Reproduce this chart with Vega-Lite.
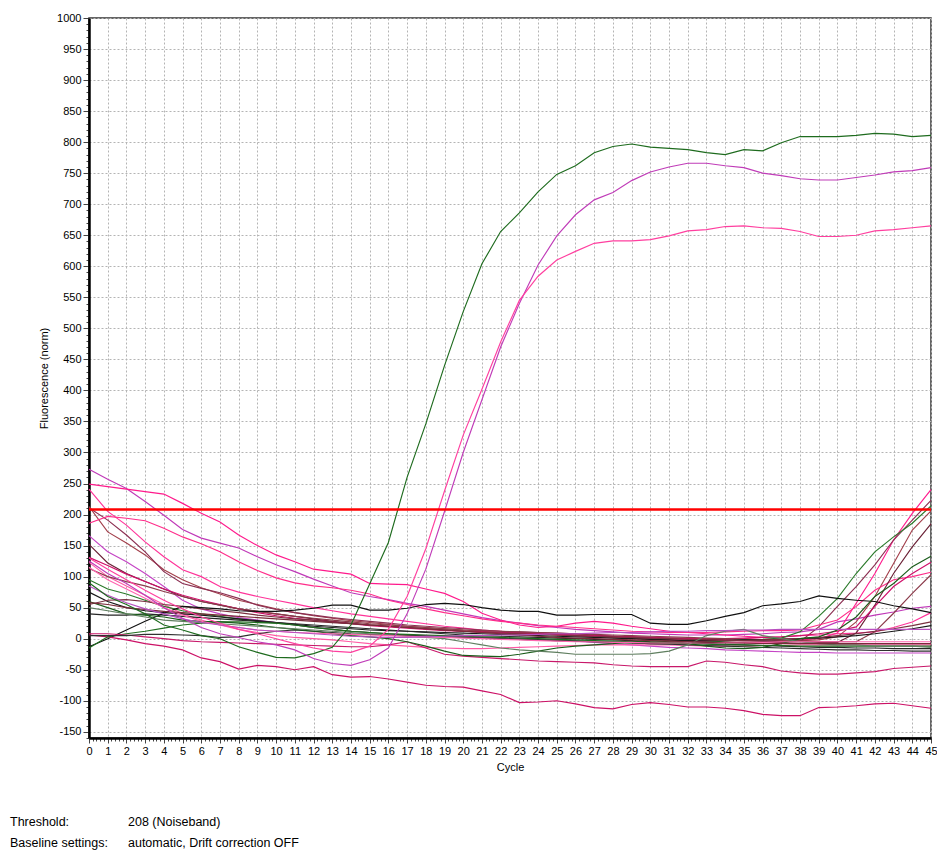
{
"$schema":"https://vega.github.io/schema/vega-lite/v6.json",
"width":842,"height":720,
"autosize":{"type":"none"},
"padding":{"left":89,"top":18,"right":6,"bottom":112},
"background":"white",
"config":{"view":{"stroke":"#333333","strokeWidth":1.5},"font":"Liberation Sans","axis":{"labelFont":"Liberation Sans","titleFont":"Liberation Sans","labelColor":"#000000","titleColor":"#000000","titleFontWeight":"normal","labelFontSize":11,"titleFontSize":11}},
"layer":[
{"data":{"values":[
{"s":"d","c":0,"v":273},{"s":"d","c":1,"v":257},{"s":"d","c":2,"v":242},{"s":"d","c":3,"v":221},{"s":"d","c":4,"v":199},{"s":"d","c":5,"v":176},{"s":"d","c":6,"v":162},{"s":"d","c":7,"v":154},{"s":"d","c":8,"v":146},{"s":"d","c":9,"v":132},{"s":"d","c":10,"v":119},{"s":"d","c":11,"v":108},{"s":"d","c":12,"v":96},{"s":"d","c":13,"v":85},{"s":"d","c":14,"v":74},{"s":"d","c":15,"v":68},{"s":"d","c":16,"v":63},{"s":"d","c":17,"v":57},{"s":"d","c":18,"v":52},{"s":"d","c":19,"v":46},{"s":"d","c":20,"v":40},{"s":"d","c":21,"v":34},{"s":"d","c":22,"v":29},{"s":"d","c":23,"v":25},{"s":"d","c":24,"v":21},{"s":"d","c":25,"v":18},{"s":"d","c":26,"v":15},{"s":"d","c":27,"v":13},{"s":"d","c":28,"v":11},{"s":"d","c":29,"v":9},{"s":"d","c":30,"v":8},{"s":"d","c":31,"v":7},{"s":"d","c":32,"v":6},{"s":"d","c":33,"v":6},{"s":"d","c":34,"v":6},{"s":"d","c":35,"v":7},{"s":"d","c":36,"v":8},{"s":"d","c":37,"v":10},{"s":"d","c":38,"v":11},{"s":"d","c":39,"v":15},{"s":"d","c":40,"v":27},{"s":"d","c":41,"v":32},{"s":"d","c":42,"v":38},{"s":"d","c":43,"v":43},{"s":"d","c":44,"v":49},{"s":"d","c":45,"v":52},
{"s":"e","c":0,"v":249},{"s":"e","c":1,"v":245},{"s":"e","c":2,"v":241},{"s":"e","c":3,"v":237},{"s":"e","c":4,"v":233},{"s":"e","c":5,"v":218},{"s":"e","c":6,"v":202},{"s":"e","c":7,"v":188},{"s":"e","c":8,"v":167},{"s":"e","c":9,"v":150},{"s":"e","c":10,"v":135},{"s":"e","c":11,"v":124},{"s":"e","c":12,"v":112},{"s":"e","c":13,"v":108},{"s":"e","c":14,"v":104},{"s":"e","c":15,"v":89},{"s":"e","c":16,"v":88},{"s":"e","c":17,"v":87},{"s":"e","c":18,"v":80},{"s":"e","c":19,"v":73},{"s":"e","c":20,"v":60},{"s":"e","c":21,"v":41},{"s":"e","c":22,"v":30},{"s":"e","c":23,"v":22},{"s":"e","c":24,"v":18},{"s":"e","c":25,"v":20},{"s":"e","c":26,"v":25},{"s":"e","c":27,"v":28},{"s":"e","c":28,"v":25},{"s":"e","c":29,"v":20},{"s":"e","c":30,"v":16},{"s":"e","c":31,"v":12},{"s":"e","c":32,"v":10},{"s":"e","c":33,"v":8},{"s":"e","c":34,"v":6},{"s":"e","c":35,"v":4},{"s":"e","c":36,"v":2},{"s":"e","c":37,"v":0},{"s":"e","c":38,"v":-2},{"s":"e","c":39,"v":0},{"s":"e","c":40,"v":9},{"s":"e","c":41,"v":57},{"s":"e","c":42,"v":105},{"s":"e","c":43,"v":159},{"s":"e","c":44,"v":202},{"s":"e","c":45,"v":240},
{"s":"f","c":0,"v":241},{"s":"f","c":1,"v":205},{"s":"f","c":2,"v":183},{"s":"f","c":3,"v":156},{"s":"f","c":4,"v":132},{"s":"f","c":5,"v":111},{"s":"f","c":6,"v":100},{"s":"f","c":7,"v":84},{"s":"f","c":8,"v":75},{"s":"f","c":9,"v":68},{"s":"f","c":10,"v":62},{"s":"f","c":11,"v":56},{"s":"f","c":12,"v":50},{"s":"f","c":13,"v":45},{"s":"f","c":14,"v":40},{"s":"f","c":15,"v":36},{"s":"f","c":16,"v":32},{"s":"f","c":17,"v":28},{"s":"f","c":18,"v":24},{"s":"f","c":19,"v":20},{"s":"f","c":20,"v":17},{"s":"f","c":21,"v":14},{"s":"f","c":22,"v":12},{"s":"f","c":23,"v":10},{"s":"f","c":24,"v":8},{"s":"f","c":25,"v":6},{"s":"f","c":26,"v":5},{"s":"f","c":27,"v":4},{"s":"f","c":28,"v":3},{"s":"f","c":29,"v":2},{"s":"f","c":30,"v":0},{"s":"f","c":31,"v":-1},{"s":"f","c":32,"v":-2},{"s":"f","c":33,"v":-2},{"s":"f","c":34,"v":-1},{"s":"f","c":35,"v":0},{"s":"f","c":36,"v":2},{"s":"f","c":37,"v":3},{"s":"f","c":38,"v":5},{"s":"f","c":39,"v":6},{"s":"f","c":40,"v":8},{"s":"f","c":41,"v":9},{"s":"f","c":42,"v":11},{"s":"f","c":43,"v":18},{"s":"f","c":44,"v":27},{"s":"f","c":45,"v":42},
{"s":"g","c":0,"v":213},{"s":"g","c":1,"v":172},{"s":"g","c":2,"v":154},{"s":"g","c":3,"v":135},{"s":"g","c":4,"v":111},{"s":"g","c":5,"v":95},{"s":"g","c":6,"v":82},{"s":"g","c":7,"v":72},{"s":"g","c":8,"v":62},{"s":"g","c":9,"v":55},{"s":"g","c":10,"v":48},{"s":"g","c":11,"v":42},{"s":"g","c":12,"v":37},{"s":"g","c":13,"v":33},{"s":"g","c":14,"v":29},{"s":"g","c":15,"v":26},{"s":"g","c":16,"v":23},{"s":"g","c":17,"v":20},{"s":"g","c":18,"v":18},{"s":"g","c":19,"v":16},{"s":"g","c":20,"v":14},{"s":"g","c":21,"v":12},{"s":"g","c":22,"v":10},{"s":"g","c":23,"v":9},{"s":"g","c":24,"v":8},{"s":"g","c":25,"v":6},{"s":"g","c":26,"v":5},{"s":"g","c":27,"v":3},{"s":"g","c":28,"v":2},{"s":"g","c":29,"v":0},{"s":"g","c":30,"v":-1},{"s":"g","c":31,"v":-3},{"s":"g","c":32,"v":-4},{"s":"g","c":33,"v":-5},{"s":"g","c":34,"v":-6},{"s":"g","c":35,"v":-6},{"s":"g","c":36,"v":-5},{"s":"g","c":37,"v":-4},{"s":"g","c":38,"v":-3},{"s":"g","c":39,"v":-2},{"s":"g","c":40,"v":3},{"s":"g","c":41,"v":27},{"s":"g","c":42,"v":68},{"s":"g","c":43,"v":121},{"s":"g","c":44,"v":175},{"s":"g","c":45,"v":206},
{"s":"h","c":0,"v":211},{"s":"h","c":1,"v":191},{"s":"h","c":2,"v":167},{"s":"h","c":3,"v":140},{"s":"h","c":4,"v":108},{"s":"h","c":5,"v":89},{"s":"h","c":6,"v":81},{"s":"h","c":7,"v":74},{"s":"h","c":8,"v":65},{"s":"h","c":9,"v":54},{"s":"h","c":10,"v":47},{"s":"h","c":11,"v":42},{"s":"h","c":12,"v":38},{"s":"h","c":13,"v":34},{"s":"h","c":14,"v":31},{"s":"h","c":15,"v":28},{"s":"h","c":16,"v":25},{"s":"h","c":17,"v":22},{"s":"h","c":18,"v":20},{"s":"h","c":19,"v":18},{"s":"h","c":20,"v":16},{"s":"h","c":21,"v":14},{"s":"h","c":22,"v":12},{"s":"h","c":23,"v":11},{"s":"h","c":24,"v":10},{"s":"h","c":25,"v":9},{"s":"h","c":26,"v":8},{"s":"h","c":27,"v":6},{"s":"h","c":28,"v":4},{"s":"h","c":29,"v":2},{"s":"h","c":30,"v":0},{"s":"h","c":31,"v":-2},{"s":"h","c":32,"v":-4},{"s":"h","c":33,"v":-5},{"s":"h","c":34,"v":-6},{"s":"h","c":35,"v":-7},{"s":"h","c":36,"v":-7},{"s":"h","c":37,"v":-6},{"s":"h","c":38,"v":-5},{"s":"h","c":39,"v":19},{"s":"h","c":40,"v":52},{"s":"h","c":41,"v":84},{"s":"h","c":42,"v":119},{"s":"h","c":43,"v":159},{"s":"h","c":44,"v":191},{"s":"h","c":45,"v":223},
{"s":"i","c":0,"v":186},{"s":"i","c":1,"v":197},{"s":"i","c":2,"v":194},{"s":"i","c":3,"v":190},{"s":"i","c":4,"v":178},{"s":"i","c":5,"v":164},{"s":"i","c":6,"v":153},{"s":"i","c":7,"v":140},{"s":"i","c":8,"v":124},{"s":"i","c":9,"v":110},{"s":"i","c":10,"v":98},{"s":"i","c":11,"v":90},{"s":"i","c":12,"v":85},{"s":"i","c":13,"v":82},{"s":"i","c":14,"v":78},{"s":"i","c":15,"v":72},{"s":"i","c":16,"v":62},{"s":"i","c":17,"v":55},{"s":"i","c":18,"v":48},{"s":"i","c":19,"v":42},{"s":"i","c":20,"v":37},{"s":"i","c":21,"v":32},{"s":"i","c":22,"v":28},{"s":"i","c":23,"v":25},{"s":"i","c":24,"v":22},{"s":"i","c":25,"v":20},{"s":"i","c":26,"v":18},{"s":"i","c":27,"v":16},{"s":"i","c":28,"v":14},{"s":"i","c":29,"v":12},{"s":"i","c":30,"v":11},{"s":"i","c":31,"v":10},{"s":"i","c":32,"v":10},{"s":"i","c":33,"v":10},{"s":"i","c":34,"v":11},{"s":"i","c":35,"v":12},{"s":"i","c":36,"v":13},{"s":"i","c":37,"v":13},{"s":"i","c":38,"v":14},{"s":"i","c":39,"v":22},{"s":"i","c":40,"v":30},{"s":"i","c":41,"v":52},{"s":"i","c":42,"v":78},{"s":"i","c":43,"v":95},{"s":"i","c":44,"v":100},{"s":"i","c":45,"v":107},
{"s":"j","c":0,"v":166},{"s":"j","c":1,"v":140},{"s":"j","c":2,"v":124},{"s":"j","c":3,"v":105},{"s":"j","c":4,"v":84},{"s":"j","c":5,"v":62},{"s":"j","c":6,"v":48},{"s":"j","c":7,"v":40},{"s":"j","c":8,"v":34},{"s":"j","c":9,"v":30},{"s":"j","c":10,"v":26},{"s":"j","c":11,"v":22},{"s":"j","c":12,"v":18},{"s":"j","c":13,"v":15},{"s":"j","c":14,"v":12},{"s":"j","c":15,"v":10},{"s":"j","c":16,"v":8},{"s":"j","c":17,"v":6},{"s":"j","c":18,"v":5},{"s":"j","c":19,"v":4},{"s":"j","c":20,"v":3},{"s":"j","c":21,"v":2},{"s":"j","c":22,"v":1},{"s":"j","c":23,"v":0},{"s":"j","c":24,"v":-1},{"s":"j","c":25,"v":-2},{"s":"j","c":26,"v":-4},{"s":"j","c":27,"v":-6},{"s":"j","c":28,"v":-8},{"s":"j","c":29,"v":-10},{"s":"j","c":30,"v":-12},{"s":"j","c":31,"v":-14},{"s":"j","c":32,"v":-15},{"s":"j","c":33,"v":-16},{"s":"j","c":34,"v":-18},{"s":"j","c":35,"v":-19},{"s":"j","c":36,"v":-20},{"s":"j","c":37,"v":-21},{"s":"j","c":38,"v":-22},{"s":"j","c":39,"v":-22},{"s":"j","c":40,"v":-23},{"s":"j","c":41,"v":-23},{"s":"j","c":42,"v":-23},{"s":"j","c":43,"v":-23},{"s":"j","c":44,"v":-23},{"s":"j","c":45,"v":-23},
{"s":"k","c":0,"v":152},{"s":"k","c":1,"v":122},{"s":"k","c":2,"v":105},{"s":"k","c":3,"v":92},{"s":"k","c":4,"v":80},{"s":"k","c":5,"v":68},{"s":"k","c":6,"v":60},{"s":"k","c":7,"v":54},{"s":"k","c":8,"v":48},{"s":"k","c":9,"v":44},{"s":"k","c":10,"v":40},{"s":"k","c":11,"v":36},{"s":"k","c":12,"v":32},{"s":"k","c":13,"v":28},{"s":"k","c":14,"v":25},{"s":"k","c":15,"v":22},{"s":"k","c":16,"v":20},{"s":"k","c":17,"v":18},{"s":"k","c":18,"v":16},{"s":"k","c":19,"v":14},{"s":"k","c":20,"v":12},{"s":"k","c":21,"v":11},{"s":"k","c":22,"v":10},{"s":"k","c":23,"v":9},{"s":"k","c":24,"v":8},{"s":"k","c":25,"v":7},{"s":"k","c":26,"v":6},{"s":"k","c":27,"v":5},{"s":"k","c":28,"v":4},{"s":"k","c":29,"v":3},{"s":"k","c":30,"v":2},{"s":"k","c":31,"v":1},{"s":"k","c":32,"v":0},{"s":"k","c":33,"v":-1},{"s":"k","c":34,"v":-2},{"s":"k","c":35,"v":-3},{"s":"k","c":36,"v":-4},{"s":"k","c":37,"v":-5},{"s":"k","c":38,"v":-5},{"s":"k","c":39,"v":-6},{"s":"k","c":40,"v":-6},{"s":"k","c":41,"v":9},{"s":"k","c":42,"v":54},{"s":"k","c":43,"v":105},{"s":"k","c":44,"v":148},{"s":"k","c":45,"v":185},
{"s":"l","c":0,"v":131},{"s":"l","c":1,"v":118},{"s":"l","c":2,"v":104},{"s":"l","c":3,"v":92},{"s":"l","c":4,"v":80},{"s":"l","c":5,"v":70},{"s":"l","c":6,"v":62},{"s":"l","c":7,"v":55},{"s":"l","c":8,"v":48},{"s":"l","c":9,"v":42},{"s":"l","c":10,"v":37},{"s":"l","c":11,"v":33},{"s":"l","c":12,"v":30},{"s":"l","c":13,"v":27},{"s":"l","c":14,"v":24},{"s":"l","c":15,"v":21},{"s":"l","c":16,"v":19},{"s":"l","c":17,"v":17},{"s":"l","c":18,"v":15},{"s":"l","c":19,"v":13},{"s":"l","c":20,"v":12},{"s":"l","c":21,"v":11},{"s":"l","c":22,"v":10},{"s":"l","c":23,"v":9},{"s":"l","c":24,"v":8},{"s":"l","c":25,"v":7},{"s":"l","c":26,"v":6},{"s":"l","c":27,"v":5},{"s":"l","c":28,"v":4},{"s":"l","c":29,"v":3},{"s":"l","c":30,"v":2},{"s":"l","c":31,"v":1},{"s":"l","c":32,"v":0},{"s":"l","c":33,"v":0},{"s":"l","c":34,"v":0},{"s":"l","c":35,"v":1},{"s":"l","c":36,"v":2},{"s":"l","c":37,"v":3},{"s":"l","c":38,"v":5},{"s":"l","c":39,"v":8},{"s":"l","c":40,"v":12},{"s":"l","c":41,"v":19},{"s":"l","c":42,"v":52},{"s":"l","c":43,"v":84},{"s":"l","c":44,"v":105},{"s":"l","c":45,"v":123},
{"s":"m","c":0,"v":123},{"s":"m","c":1,"v":100},{"s":"m","c":2,"v":85},{"s":"m","c":3,"v":70},{"s":"m","c":4,"v":55},{"s":"m","c":5,"v":40},{"s":"m","c":6,"v":30},{"s":"m","c":7,"v":22},{"s":"m","c":8,"v":15},{"s":"m","c":9,"v":10},{"s":"m","c":10,"v":5},{"s":"m","c":11,"v":2},{"s":"m","c":12,"v":0},{"s":"m","c":13,"v":-2},{"s":"m","c":14,"v":-5},{"s":"m","c":15,"v":-8},{"s":"m","c":16,"v":-10},{"s":"m","c":17,"v":-12},{"s":"m","c":18,"v":-14},{"s":"m","c":19,"v":-15},{"s":"m","c":20,"v":-16},{"s":"m","c":21,"v":-16},{"s":"m","c":22,"v":-15},{"s":"m","c":23,"v":-14},{"s":"m","c":24,"v":-13},{"s":"m","c":25,"v":-12},{"s":"m","c":26,"v":-11},{"s":"m","c":27,"v":-10},{"s":"m","c":28,"v":-10},{"s":"m","c":29,"v":-10},{"s":"m","c":30,"v":-10},{"s":"m","c":31,"v":-10},{"s":"m","c":32,"v":-11},{"s":"m","c":33,"v":-12},{"s":"m","c":34,"v":-12},{"s":"m","c":35,"v":-12},{"s":"m","c":36,"v":-11},{"s":"m","c":37,"v":-11},{"s":"m","c":38,"v":-10},{"s":"m","c":39,"v":-10},{"s":"m","c":40,"v":-10},{"s":"m","c":41,"v":-10},{"s":"m","c":42,"v":-10},{"s":"m","c":43,"v":-10},{"s":"m","c":44,"v":-10},{"s":"m","c":45,"v":-10},
{"s":"n","c":0,"v":113},{"s":"n","c":1,"v":100},{"s":"n","c":2,"v":92},{"s":"n","c":3,"v":85},{"s":"n","c":4,"v":76},{"s":"n","c":5,"v":68},{"s":"n","c":6,"v":60},{"s":"n","c":7,"v":54},{"s":"n","c":8,"v":48},{"s":"n","c":9,"v":44},{"s":"n","c":10,"v":40},{"s":"n","c":11,"v":36},{"s":"n","c":12,"v":33},{"s":"n","c":13,"v":30},{"s":"n","c":14,"v":27},{"s":"n","c":15,"v":24},{"s":"n","c":16,"v":22},{"s":"n","c":17,"v":20},{"s":"n","c":18,"v":18},{"s":"n","c":19,"v":16},{"s":"n","c":20,"v":14},{"s":"n","c":21,"v":13},{"s":"n","c":22,"v":12},{"s":"n","c":23,"v":11},{"s":"n","c":24,"v":10},{"s":"n","c":25,"v":9},{"s":"n","c":26,"v":8},{"s":"n","c":27,"v":7},{"s":"n","c":28,"v":6},{"s":"n","c":29,"v":5},{"s":"n","c":30,"v":4},{"s":"n","c":31,"v":3},{"s":"n","c":32,"v":2},{"s":"n","c":33,"v":1},{"s":"n","c":34,"v":0},{"s":"n","c":35,"v":-1},{"s":"n","c":36,"v":-2},{"s":"n","c":37,"v":-3},{"s":"n","c":38,"v":-4},{"s":"n","c":39,"v":-5},{"s":"n","c":40,"v":-5},{"s":"n","c":41,"v":-5},{"s":"n","c":42,"v":11},{"s":"n","c":43,"v":41},{"s":"n","c":44,"v":73},{"s":"n","c":45,"v":103},
{"s":"o","c":0,"v":95},{"s":"o","c":1,"v":80},{"s":"o","c":2,"v":72},{"s":"o","c":3,"v":62},{"s":"o","c":4,"v":52},{"s":"o","c":5,"v":45},{"s":"o","c":6,"v":40},{"s":"o","c":7,"v":36},{"s":"o","c":8,"v":32},{"s":"o","c":9,"v":28},{"s":"o","c":10,"v":25},{"s":"o","c":11,"v":22},{"s":"o","c":12,"v":18},{"s":"o","c":13,"v":15},{"s":"o","c":14,"v":12},{"s":"o","c":15,"v":10},{"s":"o","c":16,"v":8},{"s":"o","c":17,"v":6},{"s":"o","c":18,"v":4},{"s":"o","c":19,"v":3},{"s":"o","c":20,"v":2},{"s":"o","c":21,"v":1},{"s":"o","c":22,"v":0},{"s":"o","c":23,"v":-1},{"s":"o","c":24,"v":-2},{"s":"o","c":25,"v":-3},{"s":"o","c":26,"v":-4},{"s":"o","c":27,"v":-5},{"s":"o","c":28,"v":-6},{"s":"o","c":29,"v":-7},{"s":"o","c":30,"v":-8},{"s":"o","c":31,"v":-8},{"s":"o","c":32,"v":-8},{"s":"o","c":33,"v":-6},{"s":"o","c":34,"v":-4},{"s":"o","c":35,"v":-2},{"s":"o","c":36,"v":-1},{"s":"o","c":37,"v":1},{"s":"o","c":38,"v":11},{"s":"o","c":39,"v":36},{"s":"o","c":40,"v":65},{"s":"o","c":41,"v":105},{"s":"o","c":42,"v":140},{"s":"o","c":43,"v":164},{"s":"o","c":44,"v":186},{"s":"o","c":45,"v":214},
{"s":"p","c":0,"v":75},{"s":"p","c":1,"v":60},{"s":"p","c":2,"v":50},{"s":"p","c":3,"v":45},{"s":"p","c":4,"v":42},{"s":"p","c":5,"v":40},{"s":"p","c":6,"v":38},{"s":"p","c":7,"v":35},{"s":"p","c":8,"v":32},{"s":"p","c":9,"v":29},{"s":"p","c":10,"v":26},{"s":"p","c":11,"v":23},{"s":"p","c":12,"v":20},{"s":"p","c":13,"v":18},{"s":"p","c":14,"v":16},{"s":"p","c":15,"v":14},{"s":"p","c":16,"v":13},{"s":"p","c":17,"v":12},{"s":"p","c":18,"v":11},{"s":"p","c":19,"v":10},{"s":"p","c":20,"v":9},{"s":"p","c":21,"v":8},{"s":"p","c":22,"v":7},{"s":"p","c":23,"v":6},{"s":"p","c":24,"v":5},{"s":"p","c":25,"v":4},{"s":"p","c":26,"v":3},{"s":"p","c":27,"v":2},{"s":"p","c":28,"v":1},{"s":"p","c":29,"v":0},{"s":"p","c":30,"v":-1},{"s":"p","c":31,"v":-2},{"s":"p","c":32,"v":-3},{"s":"p","c":33,"v":-3},{"s":"p","c":34,"v":-3},{"s":"p","c":35,"v":-2},{"s":"p","c":36,"v":-2},{"s":"p","c":37,"v":-1},{"s":"p","c":38,"v":0},{"s":"p","c":39,"v":1},{"s":"p","c":40,"v":3},{"s":"p","c":41,"v":5},{"s":"p","c":42,"v":8},{"s":"p","c":43,"v":12},{"s":"p","c":44,"v":16},{"s":"p","c":45,"v":21},
{"s":"q","c":0,"v":55},{"s":"q","c":1,"v":62},{"s":"q","c":2,"v":63},{"s":"q","c":3,"v":60},{"s":"q","c":4,"v":55},{"s":"q","c":5,"v":52},{"s":"q","c":6,"v":48},{"s":"q","c":7,"v":45},{"s":"q","c":8,"v":42},{"s":"q","c":9,"v":38},{"s":"q","c":10,"v":35},{"s":"q","c":11,"v":32},{"s":"q","c":12,"v":30},{"s":"q","c":13,"v":27},{"s":"q","c":14,"v":24},{"s":"q","c":15,"v":22},{"s":"q","c":16,"v":20},{"s":"q","c":17,"v":18},{"s":"q","c":18,"v":16},{"s":"q","c":19,"v":14},{"s":"q","c":20,"v":12},{"s":"q","c":21,"v":10},{"s":"q","c":22,"v":9},{"s":"q","c":23,"v":8},{"s":"q","c":24,"v":7},{"s":"q","c":25,"v":6},{"s":"q","c":26,"v":5},{"s":"q","c":27,"v":4},{"s":"q","c":28,"v":3},{"s":"q","c":29,"v":2},{"s":"q","c":30,"v":1},{"s":"q","c":31,"v":0},{"s":"q","c":32,"v":-1},{"s":"q","c":33,"v":-2},{"s":"q","c":34,"v":-3},{"s":"q","c":35,"v":-3},{"s":"q","c":36,"v":-2},{"s":"q","c":37,"v":-1},{"s":"q","c":38,"v":0},{"s":"q","c":39,"v":2},{"s":"q","c":40,"v":5},{"s":"q","c":41,"v":8},{"s":"q","c":42,"v":12},{"s":"q","c":43,"v":16},{"s":"q","c":44,"v":21},{"s":"q","c":45,"v":27},
{"s":"r","c":0,"v":40},{"s":"r","c":1,"v":38},{"s":"r","c":2,"v":38},{"s":"r","c":3,"v":40},{"s":"r","c":4,"v":38},{"s":"r","c":5,"v":36},{"s":"r","c":6,"v":34},{"s":"r","c":7,"v":32},{"s":"r","c":8,"v":30},{"s":"r","c":9,"v":28},{"s":"r","c":10,"v":26},{"s":"r","c":11,"v":24},{"s":"r","c":12,"v":22},{"s":"r","c":13,"v":20},{"s":"r","c":14,"v":18},{"s":"r","c":15,"v":16},{"s":"r","c":16,"v":14},{"s":"r","c":17,"v":12},{"s":"r","c":18,"v":10},{"s":"r","c":19,"v":8},{"s":"r","c":20,"v":6},{"s":"r","c":21,"v":5},{"s":"r","c":22,"v":4},{"s":"r","c":23,"v":3},{"s":"r","c":24,"v":2},{"s":"r","c":25,"v":1},{"s":"r","c":26,"v":0},{"s":"r","c":27,"v":-1},{"s":"r","c":28,"v":-2},{"s":"r","c":29,"v":-3},{"s":"r","c":30,"v":-5},{"s":"r","c":31,"v":-6},{"s":"r","c":32,"v":-7},{"s":"r","c":33,"v":-8},{"s":"r","c":34,"v":-9},{"s":"r","c":35,"v":-10},{"s":"r","c":36,"v":-11},{"s":"r","c":37,"v":-12},{"s":"r","c":38,"v":-13},{"s":"r","c":39,"v":-14},{"s":"r","c":40,"v":-14},{"s":"r","c":41,"v":-15},{"s":"r","c":42,"v":-15},{"s":"r","c":43,"v":-16},{"s":"r","c":44,"v":-16},{"s":"r","c":45,"v":-16},
{"s":"s","c":0,"v":-13},{"s":"s","c":1,"v":0},{"s":"s","c":2,"v":14},{"s":"s","c":3,"v":28},{"s":"s","c":4,"v":41},{"s":"s","c":5,"v":52},{"s":"s","c":6,"v":50},{"s":"s","c":7,"v":48},{"s":"s","c":8,"v":45},{"s":"s","c":9,"v":44},{"s":"s","c":10,"v":44},{"s":"s","c":11,"v":46},{"s":"s","c":12,"v":49},{"s":"s","c":13,"v":54},{"s":"s","c":14,"v":54},{"s":"s","c":15,"v":46},{"s":"s","c":16,"v":46},{"s":"s","c":17,"v":49},{"s":"s","c":18,"v":55},{"s":"s","c":19,"v":57},{"s":"s","c":20,"v":55},{"s":"s","c":21,"v":50},{"s":"s","c":22,"v":46},{"s":"s","c":23,"v":44},{"s":"s","c":24,"v":44},{"s":"s","c":25,"v":38},{"s":"s","c":26,"v":38},{"s":"s","c":27,"v":39},{"s":"s","c":28,"v":39},{"s":"s","c":29,"v":39},{"s":"s","c":30,"v":25},{"s":"s","c":31,"v":23},{"s":"s","c":32,"v":23},{"s":"s","c":33,"v":29},{"s":"s","c":34,"v":36},{"s":"s","c":35,"v":42},{"s":"s","c":36,"v":53},{"s":"s","c":37,"v":56},{"s":"s","c":38,"v":60},{"s":"s","c":39,"v":69},{"s":"s","c":40,"v":65},{"s":"s","c":41,"v":62},{"s":"s","c":42,"v":60},{"s":"s","c":43,"v":53},{"s":"s","c":44,"v":48},{"s":"s","c":45,"v":42},
{"s":"t","c":0,"v":6},{"s":"t","c":1,"v":3},{"s":"t","c":2,"v":-2},{"s":"t","c":3,"v":-8},{"s":"t","c":4,"v":-12},{"s":"t","c":5,"v":-18},{"s":"t","c":6,"v":-31},{"s":"t","c":7,"v":-37},{"s":"t","c":8,"v":-49},{"s":"t","c":9,"v":-43},{"s":"t","c":10,"v":-45},{"s":"t","c":11,"v":-50},{"s":"t","c":12,"v":-45},{"s":"t","c":13,"v":-58},{"s":"t","c":14,"v":-62},{"s":"t","c":15,"v":-61},{"s":"t","c":16,"v":-65},{"s":"t","c":17,"v":-70},{"s":"t","c":18,"v":-75},{"s":"t","c":19,"v":-77},{"s":"t","c":20,"v":-78},{"s":"t","c":21,"v":-84},{"s":"t","c":22,"v":-90},{"s":"t","c":23,"v":-103},{"s":"t","c":24,"v":-102},{"s":"t","c":25,"v":-100},{"s":"t","c":26,"v":-105},{"s":"t","c":27,"v":-111},{"s":"t","c":28,"v":-113},{"s":"t","c":29,"v":-106},{"s":"t","c":30,"v":-103},{"s":"t","c":31,"v":-106},{"s":"t","c":32,"v":-110},{"s":"t","c":33,"v":-110},{"s":"t","c":34,"v":-112},{"s":"t","c":35,"v":-116},{"s":"t","c":36,"v":-122},{"s":"t","c":37,"v":-124},{"s":"t","c":38,"v":-124},{"s":"t","c":39,"v":-111},{"s":"t","c":40,"v":-110},{"s":"t","c":41,"v":-108},{"s":"t","c":42,"v":-105},{"s":"t","c":43,"v":-104},{"s":"t","c":44,"v":-108},{"s":"t","c":45,"v":-112},
{"s":"u","c":0,"v":-15},{"s":"u","c":1,"v":3},{"s":"u","c":2,"v":8},{"s":"u","c":3,"v":12},{"s":"u","c":4,"v":17},{"s":"u","c":5,"v":22},{"s":"u","c":6,"v":25},{"s":"u","c":7,"v":27},{"s":"u","c":8,"v":27},{"s":"u","c":9,"v":26},{"s":"u","c":10,"v":25},{"s":"u","c":11,"v":22},{"s":"u","c":12,"v":18},{"s":"u","c":13,"v":15},{"s":"u","c":14,"v":12},{"s":"u","c":15,"v":10},{"s":"u","c":16,"v":8},{"s":"u","c":17,"v":7},{"s":"u","c":18,"v":6},{"s":"u","c":19,"v":5},{"s":"u","c":20,"v":4},{"s":"u","c":21,"v":3},{"s":"u","c":22,"v":2},{"s":"u","c":23,"v":1},{"s":"u","c":24,"v":0},{"s":"u","c":25,"v":-1},{"s":"u","c":26,"v":-2},{"s":"u","c":27,"v":-3},{"s":"u","c":28,"v":-4},{"s":"u","c":29,"v":-5},{"s":"u","c":30,"v":-6},{"s":"u","c":31,"v":-7},{"s":"u","c":32,"v":-8},{"s":"u","c":33,"v":-9},{"s":"u","c":34,"v":-10},{"s":"u","c":35,"v":-10},{"s":"u","c":36,"v":-11},{"s":"u","c":37,"v":-11},{"s":"u","c":38,"v":-12},{"s":"u","c":39,"v":-12},{"s":"u","c":40,"v":-12},{"s":"u","c":41,"v":-12},{"s":"u","c":42,"v":-12},{"s":"u","c":43,"v":-12},{"s":"u","c":44,"v":-12},{"s":"u","c":45,"v":-12},
{"s":"v","c":0,"v":8},{"s":"v","c":1,"v":8},{"s":"v","c":2,"v":6},{"s":"v","c":3,"v":3},{"s":"v","c":4,"v":0},{"s":"v","c":5,"v":-3},{"s":"v","c":6,"v":-5},{"s":"v","c":7,"v":-6},{"s":"v","c":8,"v":-7},{"s":"v","c":9,"v":-8},{"s":"v","c":10,"v":-9},{"s":"v","c":11,"v":-10},{"s":"v","c":12,"v":-11},{"s":"v","c":13,"v":-12},{"s":"v","c":14,"v":-13},{"s":"v","c":15,"v":-13},{"s":"v","c":16,"v":-10},{"s":"v","c":17,"v":-5},{"s":"v","c":18,"v":-15},{"s":"v","c":19,"v":-25},{"s":"v","c":20,"v":-28},{"s":"v","c":21,"v":-30},{"s":"v","c":22,"v":-32},{"s":"v","c":23,"v":-34},{"s":"v","c":24,"v":-36},{"s":"v","c":25,"v":-37},{"s":"v","c":26,"v":-38},{"s":"v","c":27,"v":-39},{"s":"v","c":28,"v":-42},{"s":"v","c":29,"v":-44},{"s":"v","c":30,"v":-45},{"s":"v","c":31,"v":-45},{"s":"v","c":32,"v":-45},{"s":"v","c":33,"v":-36},{"s":"v","c":34,"v":-38},{"s":"v","c":35,"v":-42},{"s":"v","c":36,"v":-45},{"s":"v","c":37,"v":-52},{"s":"v","c":38,"v":-55},{"s":"v","c":39,"v":-57},{"s":"v","c":40,"v":-57},{"s":"v","c":41,"v":-55},{"s":"v","c":42,"v":-53},{"s":"v","c":43,"v":-48},{"s":"v","c":44,"v":-46},{"s":"v","c":45,"v":-44},
{"s":"w","c":0,"v":5},{"s":"w","c":1,"v":5},{"s":"w","c":2,"v":5},{"s":"w","c":3,"v":7},{"s":"w","c":4,"v":7},{"s":"w","c":5,"v":6},{"s":"w","c":6,"v":5},{"s":"w","c":7,"v":2},{"s":"w","c":8,"v":3},{"s":"w","c":9,"v":8},{"s":"w","c":10,"v":12},{"s":"w","c":11,"v":14},{"s":"w","c":12,"v":12},{"s":"w","c":13,"v":10},{"s":"w","c":14,"v":8},{"s":"w","c":15,"v":7},{"s":"w","c":16,"v":6},{"s":"w","c":17,"v":5},{"s":"w","c":18,"v":4},{"s":"w","c":19,"v":3},{"s":"w","c":20,"v":2},{"s":"w","c":21,"v":1},{"s":"w","c":22,"v":0},{"s":"w","c":23,"v":-1},{"s":"w","c":24,"v":-2},{"s":"w","c":25,"v":-3},{"s":"w","c":26,"v":-4},{"s":"w","c":27,"v":-5},{"s":"w","c":28,"v":-6},{"s":"w","c":29,"v":-7},{"s":"w","c":30,"v":-8},{"s":"w","c":31,"v":-9},{"s":"w","c":32,"v":-10},{"s":"w","c":33,"v":-11},{"s":"w","c":34,"v":-12},{"s":"w","c":35,"v":-13},{"s":"w","c":36,"v":-14},{"s":"w","c":37,"v":-15},{"s":"w","c":38,"v":-16},{"s":"w","c":39,"v":-17},{"s":"w","c":40,"v":-18},{"s":"w","c":41,"v":-18},{"s":"w","c":42,"v":-19},{"s":"w","c":43,"v":-19},{"s":"w","c":44,"v":-20},{"s":"w","c":45,"v":-20},
{"s":"x","c":0,"v":60},{"s":"x","c":1,"v":50},{"s":"x","c":2,"v":40},{"s":"x","c":3,"v":38},{"s":"x","c":4,"v":35},{"s":"x","c":5,"v":30},{"s":"x","c":6,"v":28},{"s":"x","c":7,"v":27},{"s":"x","c":8,"v":25},{"s":"x","c":9,"v":22},{"s":"x","c":10,"v":18},{"s":"x","c":11,"v":15},{"s":"x","c":12,"v":12},{"s":"x","c":13,"v":8},{"s":"x","c":14,"v":5},{"s":"x","c":15,"v":3},{"s":"x","c":16,"v":0},{"s":"x","c":17,"v":-5},{"s":"x","c":18,"v":-12},{"s":"x","c":19,"v":-20},{"s":"x","c":20,"v":-27},{"s":"x","c":21,"v":-28},{"s":"x","c":22,"v":-29},{"s":"x","c":23,"v":-25},{"s":"x","c":24,"v":-20},{"s":"x","c":25,"v":-15},{"s":"x","c":26,"v":-12},{"s":"x","c":27,"v":-10},{"s":"x","c":28,"v":-8},{"s":"x","c":29,"v":-5},{"s":"x","c":30,"v":-3},{"s":"x","c":31,"v":-5},{"s":"x","c":32,"v":-8},{"s":"x","c":33,"v":-12},{"s":"x","c":34,"v":-15},{"s":"x","c":35,"v":-16},{"s":"x","c":36,"v":-14},{"s":"x","c":37,"v":-8},{"s":"x","c":38,"v":0},{"s":"x","c":39,"v":3},{"s":"x","c":40,"v":14},{"s":"x","c":41,"v":35},{"s":"x","c":42,"v":68},{"s":"x","c":43,"v":89},{"s":"x","c":44,"v":116},{"s":"x","c":45,"v":133},
{"s":"y","c":0,"v":50},{"s":"y","c":1,"v":45},{"s":"y","c":2,"v":40},{"s":"y","c":3,"v":35},{"s":"y","c":4,"v":30},{"s":"y","c":5,"v":28},{"s":"y","c":6,"v":26},{"s":"y","c":7,"v":24},{"s":"y","c":8,"v":22},{"s":"y","c":9,"v":20},{"s":"y","c":10,"v":18},{"s":"y","c":11,"v":16},{"s":"y","c":12,"v":14},{"s":"y","c":13,"v":12},{"s":"y","c":14,"v":10},{"s":"y","c":15,"v":8},{"s":"y","c":16,"v":6},{"s":"y","c":17,"v":4},{"s":"y","c":18,"v":2},{"s":"y","c":19,"v":0},{"s":"y","c":20,"v":-5},{"s":"y","c":21,"v":-10},{"s":"y","c":22,"v":-15},{"s":"y","c":23,"v":-18},{"s":"y","c":24,"v":-20},{"s":"y","c":25,"v":-22},{"s":"y","c":26,"v":-25},{"s":"y","c":27,"v":-25},{"s":"y","c":28,"v":-25},{"s":"y","c":29,"v":-25},{"s":"y","c":30,"v":-24},{"s":"y","c":31,"v":-20},{"s":"y","c":32,"v":-10},{"s":"y","c":33,"v":5},{"s":"y","c":34,"v":12},{"s":"y","c":35,"v":15},{"s":"y","c":36,"v":5},{"s":"y","c":37,"v":0},{"s":"y","c":38,"v":-5},{"s":"y","c":39,"v":-8},{"s":"y","c":40,"v":-10},{"s":"y","c":41,"v":-10},{"s":"y","c":42,"v":-12},{"s":"y","c":43,"v":-12},{"s":"y","c":44,"v":-12},{"s":"y","c":45,"v":-14},
{"s":"z","c":0,"v":115},{"s":"z","c":1,"v":95},{"s":"z","c":2,"v":80},{"s":"z","c":3,"v":65},{"s":"z","c":4,"v":50},{"s":"z","c":5,"v":38},{"s":"z","c":6,"v":28},{"s":"z","c":7,"v":22},{"s":"z","c":8,"v":18},{"s":"z","c":9,"v":14},{"s":"z","c":10,"v":12},{"s":"z","c":11,"v":10},{"s":"z","c":12,"v":9},{"s":"z","c":13,"v":8},{"s":"z","c":14,"v":7},{"s":"z","c":15,"v":6},{"s":"z","c":16,"v":5},{"s":"z","c":17,"v":4},{"s":"z","c":18,"v":3},{"s":"z","c":19,"v":2},{"s":"z","c":20,"v":1},{"s":"z","c":21,"v":0},{"s":"z","c":22,"v":-1},{"s":"z","c":23,"v":-2},{"s":"z","c":24,"v":-3},{"s":"z","c":25,"v":-4},{"s":"z","c":26,"v":-5},{"s":"z","c":27,"v":-5},{"s":"z","c":28,"v":-6},{"s":"z","c":29,"v":-6},{"s":"z","c":30,"v":-7},{"s":"z","c":31,"v":-7},{"s":"z","c":32,"v":-7},{"s":"z","c":33,"v":-7},{"s":"z","c":34,"v":-6},{"s":"z","c":35,"v":-6},{"s":"z","c":36,"v":-6},{"s":"z","c":37,"v":-5},{"s":"z","c":38,"v":-5},{"s":"z","c":39,"v":-5},{"s":"z","c":40,"v":-5},{"s":"z","c":41,"v":-5},{"s":"z","c":42,"v":-5},{"s":"z","c":43,"v":-5},{"s":"z","c":44,"v":-5},{"s":"z","c":45,"v":-5},
{"s":"za","c":0,"v":58},{"s":"za","c":1,"v":55},{"s":"za","c":2,"v":50},{"s":"za","c":3,"v":47},{"s":"za","c":4,"v":44},{"s":"za","c":5,"v":42},{"s":"za","c":6,"v":40},{"s":"za","c":7,"v":38},{"s":"za","c":8,"v":36},{"s":"za","c":9,"v":34},{"s":"za","c":10,"v":32},{"s":"za","c":11,"v":30},{"s":"za","c":12,"v":28},{"s":"za","c":13,"v":26},{"s":"za","c":14,"v":24},{"s":"za","c":15,"v":22},{"s":"za","c":16,"v":20},{"s":"za","c":17,"v":18},{"s":"za","c":18,"v":16},{"s":"za","c":19,"v":14},{"s":"za","c":20,"v":12},{"s":"za","c":21,"v":10},{"s":"za","c":22,"v":8},{"s":"za","c":23,"v":6},{"s":"za","c":24,"v":4},{"s":"za","c":25,"v":2},{"s":"za","c":26,"v":1},{"s":"za","c":27,"v":0},{"s":"za","c":28,"v":-1},{"s":"za","c":29,"v":-2},{"s":"za","c":30,"v":-3},{"s":"za","c":31,"v":-4},{"s":"za","c":32,"v":-5},{"s":"za","c":33,"v":-6},{"s":"za","c":34,"v":-7},{"s":"za","c":35,"v":-7},{"s":"za","c":36,"v":-8},{"s":"za","c":37,"v":-8},{"s":"za","c":38,"v":-8},{"s":"za","c":39,"v":-8},{"s":"za","c":40,"v":-8},{"s":"za","c":41,"v":-8},{"s":"za","c":42,"v":-8},{"s":"za","c":43,"v":-8},{"s":"za","c":44,"v":-8},{"s":"za","c":45,"v":-8},
{"s":"zb","c":0,"v":85},{"s":"zb","c":1,"v":70},{"s":"zb","c":2,"v":58},{"s":"zb","c":3,"v":48},{"s":"zb","c":4,"v":40},{"s":"zb","c":5,"v":32},{"s":"zb","c":6,"v":26},{"s":"zb","c":7,"v":22},{"s":"zb","c":8,"v":18},{"s":"zb","c":9,"v":14},{"s":"zb","c":10,"v":12},{"s":"zb","c":11,"v":10},{"s":"zb","c":12,"v":8},{"s":"zb","c":13,"v":6},{"s":"zb","c":14,"v":4},{"s":"zb","c":15,"v":3},{"s":"zb","c":16,"v":2},{"s":"zb","c":17,"v":2},{"s":"zb","c":18,"v":3},{"s":"zb","c":19,"v":4},{"s":"zb","c":20,"v":5},{"s":"zb","c":21,"v":5},{"s":"zb","c":22,"v":6},{"s":"zb","c":23,"v":6},{"s":"zb","c":24,"v":7},{"s":"zb","c":25,"v":8},{"s":"zb","c":26,"v":8},{"s":"zb","c":27,"v":9},{"s":"zb","c":28,"v":10},{"s":"zb","c":29,"v":10},{"s":"zb","c":30,"v":11},{"s":"zb","c":31,"v":12},{"s":"zb","c":32,"v":12},{"s":"zb","c":33,"v":13},{"s":"zb","c":34,"v":13},{"s":"zb","c":35,"v":14},{"s":"zb","c":36,"v":14},{"s":"zb","c":37,"v":15},{"s":"zb","c":38,"v":15},{"s":"zb","c":39,"v":15},{"s":"zb","c":40,"v":15},{"s":"zb","c":41,"v":15},{"s":"zb","c":42,"v":15},{"s":"zb","c":43,"v":15},{"s":"zb","c":44,"v":15},{"s":"zb","c":45,"v":15},
{"s":"a","c":0,"v":90},{"s":"a","c":1,"v":68},{"s":"a","c":2,"v":55},{"s":"a","c":3,"v":40},{"s":"a","c":4,"v":22},{"s":"a","c":5,"v":14},{"s":"a","c":6,"v":5},{"s":"a","c":7,"v":0},{"s":"a","c":8,"v":-13},{"s":"a","c":9,"v":-22},{"s":"a","c":10,"v":-30},{"s":"a","c":11,"v":-31},{"s":"a","c":12,"v":-24},{"s":"a","c":13,"v":-14},{"s":"a","c":14,"v":22},{"s":"a","c":15,"v":88},{"s":"a","c":16,"v":155},{"s":"a","c":17,"v":260},{"s":"a","c":18,"v":346},{"s":"a","c":19,"v":440},{"s":"a","c":20,"v":527},{"s":"a","c":21,"v":604},{"s":"a","c":22,"v":656},{"s":"a","c":23,"v":686},{"s":"a","c":24,"v":720},{"s":"a","c":25,"v":748},{"s":"a","c":26,"v":762},{"s":"a","c":27,"v":783},{"s":"a","c":28,"v":793},{"s":"a","c":29,"v":797},{"s":"a","c":30,"v":792},{"s":"a","c":31,"v":790},{"s":"a","c":32,"v":788},{"s":"a","c":33,"v":783},{"s":"a","c":34,"v":780},{"s":"a","c":35,"v":788},{"s":"a","c":36,"v":786},{"s":"a","c":37,"v":799},{"s":"a","c":38,"v":809},{"s":"a","c":39,"v":809},{"s":"a","c":40,"v":809},{"s":"a","c":41,"v":811},{"s":"a","c":42,"v":814},{"s":"a","c":43,"v":813},{"s":"a","c":44,"v":809},{"s":"a","c":45,"v":811},
{"s":"b","c":0,"v":125},{"s":"b","c":1,"v":105},{"s":"b","c":2,"v":89},{"s":"b","c":3,"v":70},{"s":"b","c":4,"v":50},{"s":"b","c":5,"v":33},{"s":"b","c":6,"v":18},{"s":"b","c":7,"v":8},{"s":"b","c":8,"v":2},{"s":"b","c":9,"v":-5},{"s":"b","c":10,"v":-10},{"s":"b","c":11,"v":-18},{"s":"b","c":12,"v":-32},{"s":"b","c":13,"v":-40},{"s":"b","c":14,"v":-43},{"s":"b","c":15,"v":-34},{"s":"b","c":16,"v":-15},{"s":"b","c":17,"v":40},{"s":"b","c":18,"v":112},{"s":"b","c":19,"v":205},{"s":"b","c":20,"v":300},{"s":"b","c":21,"v":385},{"s":"b","c":22,"v":470},{"s":"b","c":23,"v":540},{"s":"b","c":24,"v":602},{"s":"b","c":25,"v":649},{"s":"b","c":26,"v":683},{"s":"b","c":27,"v":707},{"s":"b","c":28,"v":719},{"s":"b","c":29,"v":738},{"s":"b","c":30,"v":752},{"s":"b","c":31,"v":760},{"s":"b","c":32,"v":766},{"s":"b","c":33,"v":766},{"s":"b","c":34,"v":762},{"s":"b","c":35,"v":759},{"s":"b","c":36,"v":750},{"s":"b","c":37,"v":746},{"s":"b","c":38,"v":741},{"s":"b","c":39,"v":739},{"s":"b","c":40,"v":739},{"s":"b","c":41,"v":743},{"s":"b","c":42,"v":747},{"s":"b","c":43,"v":752},{"s":"b","c":44,"v":754},{"s":"b","c":45,"v":759},
{"s":"c","c":0,"v":130},{"s":"c","c":1,"v":112},{"s":"c","c":2,"v":95},{"s":"c","c":3,"v":78},{"s":"c","c":4,"v":62},{"s":"c","c":5,"v":48},{"s":"c","c":6,"v":35},{"s":"c","c":7,"v":25},{"s":"c","c":8,"v":15},{"s":"c","c":9,"v":8},{"s":"c","c":10,"v":0},{"s":"c","c":11,"v":-8},{"s":"c","c":12,"v":-15},{"s":"c","c":13,"v":-20},{"s":"c","c":14,"v":-22},{"s":"c","c":15,"v":-12},{"s":"c","c":16,"v":15},{"s":"c","c":17,"v":68},{"s":"c","c":18,"v":145},{"s":"c","c":19,"v":238},{"s":"c","c":20,"v":328},{"s":"c","c":21,"v":402},{"s":"c","c":22,"v":478},{"s":"c","c":23,"v":545},{"s":"c","c":24,"v":584},{"s":"c","c":25,"v":610},{"s":"c","c":26,"v":624},{"s":"c","c":27,"v":637},{"s":"c","c":28,"v":641},{"s":"c","c":29,"v":641},{"s":"c","c":30,"v":643},{"s":"c","c":31,"v":649},{"s":"c","c":32,"v":657},{"s":"c","c":33,"v":659},{"s":"c","c":34,"v":664},{"s":"c","c":35,"v":665},{"s":"c","c":36,"v":662},{"s":"c","c":37,"v":661},{"s":"c","c":38,"v":656},{"s":"c","c":39,"v":648},{"s":"c","c":40,"v":648},{"s":"c","c":41,"v":650},{"s":"c","c":42,"v":657},{"s":"c","c":43,"v":659},{"s":"c","c":44,"v":662},{"s":"c","c":45,"v":665}
]},
"mark":{"type":"line","strokeWidth":1.15},
"encoding":{
"x":{"field":"c","type":"quantitative","scale":{"domain":[0,45],"nice":false,"zero":false},
 "axis":{"title":"Cycle","tickCount":225,"labelExpr":"datum.value % 1 === 0 ? '' + datum.value : ''","labelOverlap":false,"labelBound":false,"labelFlush":false,"labelPadding":2,"titlePadding":5,"domainWidth":2.5,"domainColor":"#000000","tickColor":"#444444","tickWidth":1,"tickSize":{"condition":{"test":"datum.value % 1 === 0","value":5},"value":3},"gridColor":"#b4b4b4","gridDash":[2,2],"gridWidth":1,"gridOpacity":{"condition":{"test":"datum.value % 1 === 0","value":1},"value":0}}},
"y":{"field":"v","type":"quantitative","scale":{"domain":[-160,1000],"nice":false,"zero":false},
 "axis":{"title":"Fluorescence (norm)","tickCount":116,"labelExpr":"datum.value % 50 === 0 ? '' + datum.value : ''","labelOverlap":false,"labelBound":false,"labelFlush":false,"labelPadding":2,"titlePadding":7,"domainWidth":2.5,"domainColor":"#000000","tickColor":"#444444","tickWidth":1,"tickSize":{"condition":{"test":"datum.value % 50 === 0","value":6},"value":3},"gridColor":"#b4b4b4","gridDash":[2,2],"gridWidth":1,"gridOpacity":{"condition":{"test":"datum.value % 50 === 0","value":1},"value":0}}},
"color":{"field":"s","type":"nominal","legend":null,"scale":{"domain":["a","b","c","d","e","f","g","h","i","j","k","l","m","n","o","p","q","r","s","t","u","v","w","x","y","z","za","zb"],"range":["#1e6b1e","#c03cb8","#ff3f9f","#c038b8","#ff1a8c","#ff3399","#a3404c","#8c2f52","#ff2d8a","#c545c5","#6a2035","#d0106a","#ff5aa5","#8b3a4a","#2a7a2a","#1a1a1a","#7a3040","#262626","#101010","#cc1166","#1f6e1f","#c8186a","#303030","#1a5c1a","#607f60","#ff66b0","#7a2a3a","#b850c0"]}}
}},
{"data":{"values":[{"v":208}]},"mark":{"type":"rule","color":"#ff0000","strokeWidth":2.5},"encoding":{"y":{"field":"v","type":"quantitative","title":"Fluorescence (norm)"}}},
{"data":{"values":[{"k":"Threshold:"}]},"mark":{"type":"text","align":"left","baseline":"middle","fontSize":12.5,"font":"Liberation Sans","color":"#000000"},"encoding":{"x":{"datum":-4.222,"type":"quantitative"},"y":{"datum":-295.3,"type":"quantitative"},"text":{"field":"k"}}},
{"data":{"values":[{"k":"208 (Noiseband)"}]},"mark":{"type":"text","align":"left","baseline":"middle","fontSize":12.5,"font":"Liberation Sans","color":"#000000"},"encoding":{"x":{"datum":2.084,"type":"quantitative"},"y":{"datum":-295.3,"type":"quantitative"},"text":{"field":"k"}}},
{"data":{"values":[{"k":"Baseline settings:"}]},"mark":{"type":"text","align":"left","baseline":"middle","fontSize":12.5,"font":"Liberation Sans","color":"#000000"},"encoding":{"x":{"datum":-4.222,"type":"quantitative"},"y":{"datum":-329.2,"type":"quantitative"},"text":{"field":"k"}}},
{"data":{"values":[{"k":"automatic, Drift correction OFF"}]},"mark":{"type":"text","align":"left","baseline":"middle","fontSize":12.5,"font":"Liberation Sans","color":"#000000"},"encoding":{"x":{"datum":2.084,"type":"quantitative"},"y":{"datum":-329.2,"type":"quantitative"},"text":{"field":"k"}}}
]
}
